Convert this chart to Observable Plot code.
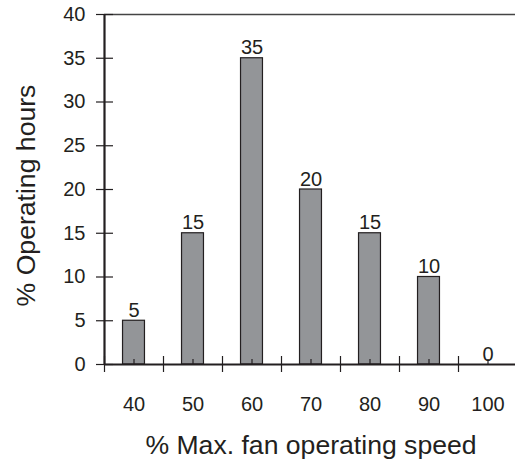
<!DOCTYPE html>
<html>
<head>
<meta charset="utf-8">
<script src="https://cdn.jsdelivr.net/npm/d3@7"></script>
<script src="https://cdn.jsdelivr.net/npm/@observablehq/plot@0.6"></script>
<style>
  html, body { margin: 0; padding: 0; background: #fff; }
  #chart svg { display: block; }
</style>
</head>
<body>
<div id="chart"></div>
<script>
const speeds = [40, 50, 60, 70, 80, 90, 100];
const hours = [5, 15, 35, 20, 15, 10, 0];
const yTicks = [0, 5, 10, 15, 20, 25, 30, 35, 40];
const xLabel = "% Max. fan operating speed";
const yLabel = "% Operating hours";

const data = speeds.map((s, i) => ({speed: s, hours: hours[i]}));
const step = 10;
const boundaries = speeds.map(s => s - step / 2).concat([speeds[speeds.length - 1] + step / 2]);
const half = 1.86;
const ink = "#231f20";
const font = "Liberation Sans, Arial, Helvetica, sans-serif";

const plot = Plot.plot({
  width: 515,
  height: 461,
  marginLeft: 104,
  marginRight: -2,
  marginTop: 14,
  marginBottom: 97,
  style: {fontFamily: font, fontSize: "20px", color: ink, background: "#fff"},
  x: {type: "linear", domain: [speeds[0] - step / 2, speeds[speeds.length - 1] + step / 2]},
  y: {domain: [0, 40]},
  marks: [
    Plot.ruleY([40], {stroke: "#444", strokeWidth: 1.3}),
    Plot.rectY(data, {x1: d => d.speed - half, x2: d => d.speed + half, y1: 0, y2: "hours", fill: "#939598", stroke: ink, strokeWidth: 1.2}),
    Plot.text(data, {x: "speed", y: "hours", text: d => String(d.hours), lineAnchor: "bottom", dy: -4, fill: ink, fontSize: 20}),
    // center ticks (up)
    Plot.axisX(speeds, {anchor: "bottom", tickSize: 5, dy: -5, tickFormat: () => "", stroke: ink, strokeWidth: 1.2, label: null}),
    // boundary ticks (crossing)
    Plot.axisX(boundaries, {anchor: "bottom", tickSize: 16, dy: -8, tickFormat: () => "", stroke: ink, strokeWidth: 1.2, label: null}),
    // labels
    Plot.axisX(speeds, {anchor: "bottom", tickSize: 0, tickPadding: 32, tickFormat: d => String(d), fill: ink, fontSize: 20, label: null}),
    Plot.axisY(yTicks, {anchor: "left", tickSize: 17, dx: 9, tickPadding: 11, tickFormat: d => String(d), stroke: ink, strokeWidth: 1.2, fill: ink, fontSize: 20, label: null}),
    Plot.ruleY([0], {stroke: ink, strokeWidth: 2.2}),
    Plot.ruleX([speeds[0] - step / 2], {stroke: ink, strokeWidth: 2.2}),
    Plot.text([xLabel], {frameAnchor: "bottom", textAnchor: "middle", lineAnchor: "middle", dy: 81, fill: ink, fontSize: 26.6}),
    Plot.text([yLabel], {frameAnchor: "left", textAnchor: "middle", lineAnchor: "middle", rotate: -90, dx: -78, dy: 6, fill: ink, fontSize: 26.6})
  ]
});
document.getElementById("chart").appendChild(plot);
</script>
</body>
</html>
